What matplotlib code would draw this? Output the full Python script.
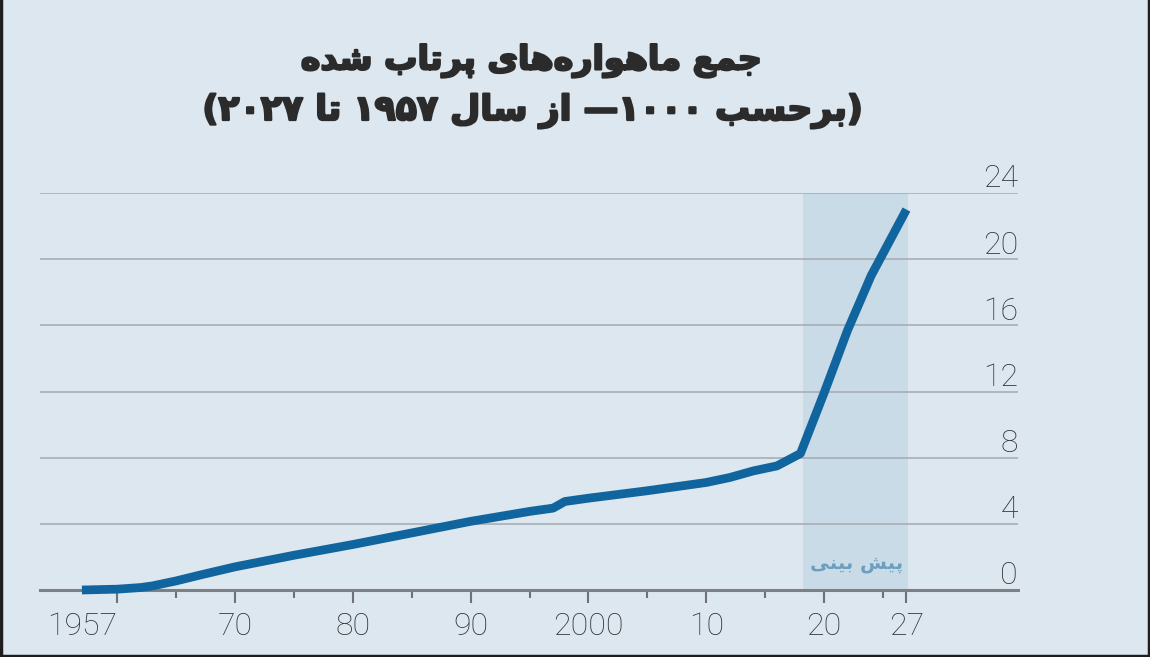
import matplotlib
matplotlib.use("Agg")
import matplotlib.pyplot as plt
from matplotlib.lines import Line2D
import matplotlib.transforms as mtransforms
import matplotlib.patheffects as pe

# ---------------- data ----------------
years = [1957, 1960, 1962, 1963, 1965, 1967, 1970, 1975, 1980, 1985, 1990,
         1995, 1997, 1998, 2000, 2005, 2010, 2012, 2014, 2016, 2018,
         2020, 2022, 2024, 2027]
satellites_k = [0.0, 0.05, 0.15, 0.25, 0.55, 0.9, 1.4, 2.1, 2.75, 3.45, 4.15,
                4.75, 4.95, 5.35, 5.55, 6.0, 6.5, 6.8, 7.2, 7.5, 8.25,
                11.9, 15.7, 19.0, 23.0]
forecast_span = [2018, 2027]
x_tick_pos = [1957, 1960, 1970, 1980, 1990, 2000, 2010, 2020, 2027]
x_tick_labels = ["1957", "", "70", "80", "90", "2000", "10", "20", "27"]
x_minor_pos = [1965, 1975, 1985, 1995, 2005, 2015, 2025]
y_ticks = [0, 4, 8, 12, 16, 20, 24]
title_line1 = "جمع ماهواره\u200cهای پرتاب شده"
title_line2 = "(برحسب ۱۰۰۰— از سال ۱۹۵۷ تا ۲۰۲۷)"
forecast_label = "پیش بینی"

# ------------- simple Persian shaping + RTL ordering -------------
FORMS = {  # isolated, final, initial, medial
    '\u0627': ('\uFE8D', '\uFE8E', None, None),
    '\u0628': ('\uFE8F', '\uFE90', '\uFE91', '\uFE92'),
    '\u062A': ('\uFE95', '\uFE96', '\uFE97', '\uFE98'),
    '\u062C': ('\uFE9D', '\uFE9E', '\uFE9F', '\uFEA0'),
    '\u062D': ('\uFEA1', '\uFEA2', '\uFEA3', '\uFEA4'),
    '\u062F': ('\uFEA9', '\uFEAA', None, None),
    '\u0631': ('\uFEAD', '\uFEAE', None, None),
    '\u0632': ('\uFEAF', '\uFEB0', None, None),
    '\u0633': ('\uFEB1', '\uFEB2', '\uFEB3', '\uFEB4'),
    '\u0634': ('\uFEB5', '\uFEB6', '\uFEB7', '\uFEB8'),
    '\u0639': ('\uFEC9', '\uFECA', '\uFECB', '\uFECC'),
    '\u0644': ('\uFEDD', '\uFEDE', '\uFEDF', '\uFEE0'),
    '\u0645': ('\uFEE1', '\uFEE2', '\uFEE3', '\uFEE4'),
    '\u0646': ('\uFEE5', '\uFEE6', '\uFEE7', '\uFEE8'),
    '\u0647': ('\uFEE9', '\uFEEA', '\uFEEB', '\uFEEC'),
    '\u0648': ('\uFEED', '\uFEEE', None, None),
    '\u06CC': ('\uFBFC', '\uFBFD', '\uFBFE', '\uFBFF'),
    '\u067E': ('\uFB56', '\uFB57', '\uFB58', '\uFB59'),
}


def dual(c):
    return c in FORMS and FORMS[c][2] is not None


def joinable(c):
    return c in FORMS


def shape_word(w):
    out = []
    n = len(w)
    for i, c in enumerate(w):
        if c == '\u200c':
            continue
        if c not in FORMS:
            out.append(c)
            continue
        jp = i > 0 and dual(w[i - 1]) and joinable(c)
        jn = i < n - 1 and dual(c) and joinable(w[i + 1])
        iso, fin, ini, med = FORMS[c]
        if jp and jn:
            g = med
        elif jp:
            g = fin
        elif jn:
            g = ini
        else:
            g = iso
        out.append(g)
    return "".join(reversed(out))


def is_digit(c):
    return c.isdigit()


def is_arabic(c):
    return ('\u0600' <= c <= '\u06FF' and not c.isdigit()) or c == '\u200c'


def visual(text):
    tokens = []
    i = 0
    while i < len(text):
        c = text[i]
        if is_arabic(c):
            j = i
            while j < len(text) and is_arabic(text[j]):
                j += 1
            tokens.append(shape_word(text[i:j]))
            i = j
        elif is_digit(c):
            j = i
            while j < len(text) and is_digit(text[j]):
                j += 1
            tokens.append(text[i:j])
            i = j
        else:
            tokens.append({'(': ')', ')': '('}.get(c, c))
            i += 1
    return "".join(reversed(tokens))


# ---------------- figure ----------------
W, H = 1150, 657
bg = "#dde7ef"
fig = plt.figure(figsize=(W / 100, H / 100), dpi=100, facecolor=bg)

ax = fig.add_axes([40 / W, 1 - 590 / H, 978 / W, 397 / H])
ax.set_facecolor(bg)
ax.set_xlim(1953.44, 2036.47)
ax.set_ylim(0, 24)

ax.axvspan(forecast_span[0] + 0.2, forecast_span[1] + 0.1, color="#c9dbe7",
           zorder=0, lw=0)

ax.set_yticks(y_ticks)
ax.yaxis.grid(True, color="#a7aeb4", lw=1.2)
ax.set_axisbelow(True)
ax.tick_params(axis="y", length=0, labelleft=False, labelright=False)

for s in ["top", "left", "right"]:
    ax.spines[s].set_visible(False)
ax.spines["bottom"].set_color("#7d8185")
ax.spines["bottom"].set_linewidth(2.2)
ax.spines["bottom"].set_zorder(1)

ax.plot(years, satellites_k, color="#11659f", lw=6.3, solid_capstyle="butt",
        solid_joinstyle="round", zorder=4, clip_on=False)

ax.set_xticks(x_tick_pos)
ax.set_xticklabels(x_tick_labels)
ax.set_xticks(x_minor_pos, minor=True)
ax.tick_params(axis="x", which="major", length=9, width=1.5, color="#6e7175",
               direction="out", pad=7, labelsize=23, labelcolor="#333538")
ax.tick_params(axis="x", which="minor", length=6, width=1.5, color="#6e7175",
               direction="out")
for lab in ax.get_xticklabels():
    lab.set_fontfamily("Roboto")
    lab.set_fontweight("light")
ax.xaxis.get_major_ticks()[0].tick1line.set_visible(False)

trans = mtransforms.blended_transform_factory(ax.transAxes, ax.transData)
for v in y_ticks:
    ax.annotate(str(v), xy=(1.0, v), xycoords=trans, xytext=(0, 4),
                textcoords="offset points", ha="right", va="baseline",
                fontsize=23, color="#333538", family="Roboto",
                fontweight="light", annotation_clip=False)

ax.text(2022.8, 1.6, visual(forecast_label),
        ha="center", va="center", fontsize=14, fontweight="bold",
        color="#6c9fbf", family="DejaVu Sans", zorder=5)

title_fx = [pe.withStroke(linewidth=1.6, foreground="#2b2b2b")]
fig.text(532 / W, 1 - 61 / H, visual(title_line1), ha="center", va="center",
         fontsize=24, fontweight="bold", color="#2b2b2b", family="DejaVu Sans",
         path_effects=title_fx)
fig.text(533 / W, 1 - 111 / H, visual(title_line2), ha="center", va="center",
         fontsize=25, fontweight="bold", color="#2b2b2b", family="DejaVu Sans",
         path_effects=title_fx)

# image frame
for xs, ys in [([0.001, 0.001], [0, 1]), ([0.999, 0.999], [0, 1]),
               ([0, 1], [0.002, 0.002])]:
    fig.add_artist(Line2D(xs, ys, transform=fig.transFigure, color="#1e1e1e",
                          lw=2.5))

fig.savefig("out.png", dpi=100, facecolor=bg)
